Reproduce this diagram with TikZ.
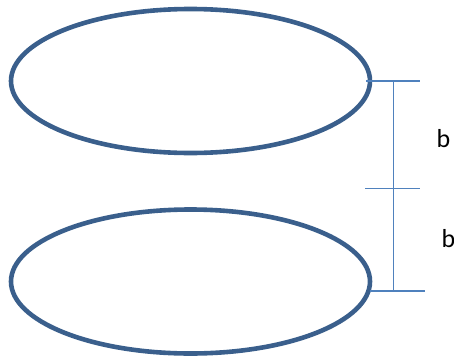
\documentclass[tikz,border=0pt]{standalone}
\usepackage{fontspec}
\setmainfont{Carlito}
\usetikzlibrary{shapes.geometric}
\definecolor{ringblue}{HTML}{3A5F8C}
\definecolor{dimblue}{HTML}{4F81BD}
\begin{document}
\begin{tikzpicture}[x=1pt,y=-1pt,
  ring/.style={draw=ringblue,line width=4.6pt,ellipse,inner sep=0pt,minimum width=359pt,minimum height=144pt},
  dimline/.style={draw=dimblue,line width=1.8pt},
  lbl/.style={font=\fontsize{26}{30}\selectfont,inner sep=0pt}]
\useasboundingbox (0,0) rectangle (454,356);
\node[ring] (top) at (190.5,81) {};
\node[ring] (bot) at (190.5,281.5) {};
\coordinate (t1) at (366,81);
\coordinate (t2) at (420,81);
\coordinate (m1) at (365,188.5);
\coordinate (m2) at (420,188.5);
\coordinate (b1) at (370,291);
\coordinate (b2) at (425,291);
\coordinate (vt) at (393.5,81);
\coordinate (vb) at (393.5,291);
\draw[dimline] (t1) -- (t2);
\draw[dimline] (m1) -- (m2);
\draw[dimline] (b1) -- (b2);
\draw[dimline] (vt) -- (vb);
\node[lbl] (l1) at (443.5,139) {b};
\node[lbl] (l2) at (448.5,239) {b};
\end{tikzpicture}
\end{document}
